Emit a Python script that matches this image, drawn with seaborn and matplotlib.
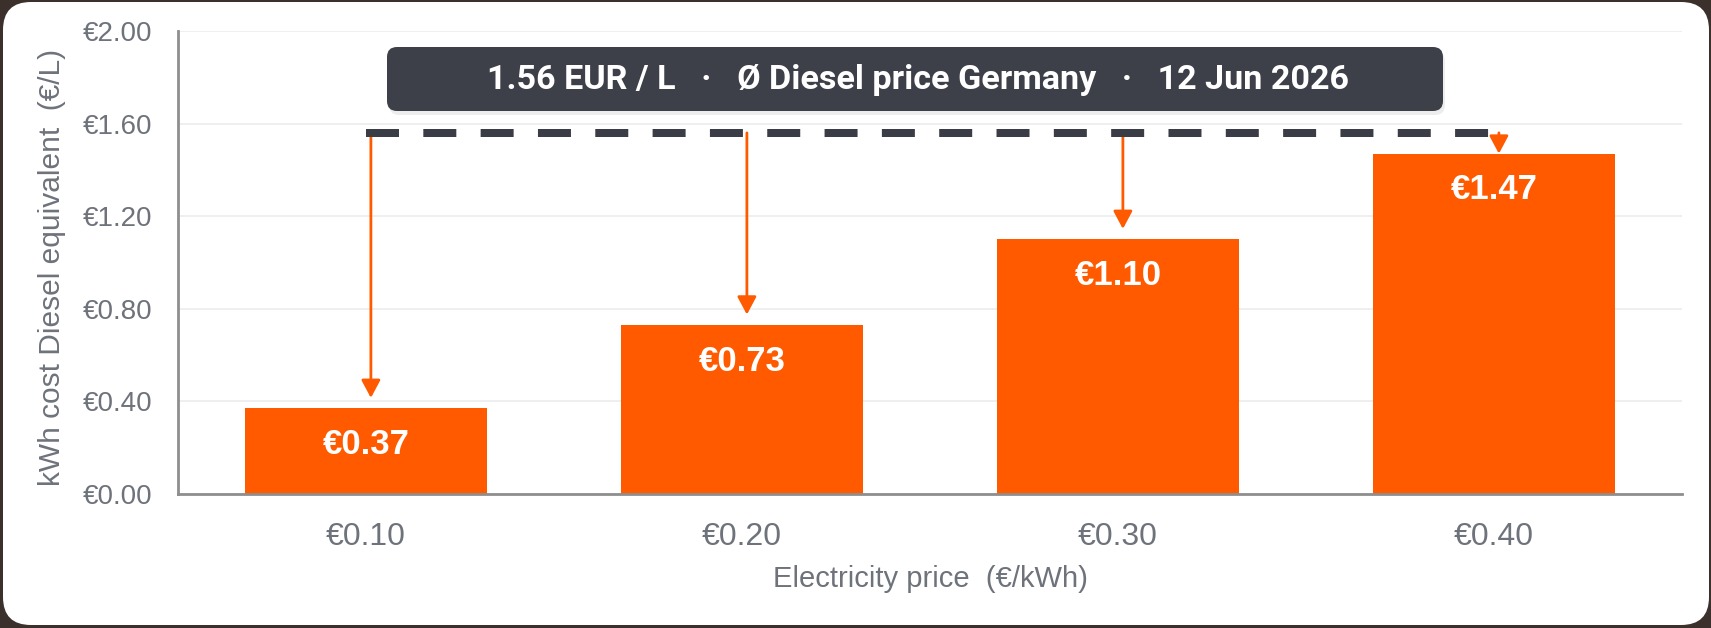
import pandas as pd
import seaborn as sns
import matplotlib.pyplot as plt
from matplotlib.patches import FancyBboxPatch

# data
elec_price = [0.10, 0.20, 0.30, 0.40]
diesel_equiv = [0.37, 0.73, 1.10, 1.47]
diesel_price = 1.56
price_date = "12 Jun 2026"
y_ticks = [0.0, 0.4, 0.8, 1.2, 1.6, 2.0]

ORANGE = "#ff5a00"
DARK = "#3d4048"
GREY_TXT = "#6e727b"
AXIS = "#8e8e8e"

sns.set_style("white")
plt.rcParams['font.family'] = ['Liberation Sans', 'DejaVu Sans']

df = pd.DataFrame({"price": [f"€{p:.2f}" for p in elec_price],
                   "cost": diesel_equiv})

W, H = 1711, 628
fig = plt.figure(figsize=(W / 100, H / 100), dpi=100)
fig.patch.set_facecolor("#3b302c")

# background card, in pixel units
bg = fig.add_axes([0, 0, 1, 1], zorder=0)
bg.set_xlim(0, W)
bg.set_ylim(H, 0)
bg.axis("off")
bg.add_patch(FancyBboxPatch((3, 2), W - 5, H - 5,
                            boxstyle="round,pad=0,rounding_size=28",
                            fc="white", ec="none"))

ax = fig.add_axes([178 / W, (H - 494) / H, 1504 / W, 463 / H], zorder=1)
ax.patch.set_alpha(0)
sns.barplot(data=df, x="price", y="cost", color=ORANGE, saturation=1,
            width=0.644, linewidth=0, ax=ax, zorder=2)

ax.set_xlim(-0.5, len(elec_price) - 0.5)
ax.set_ylim(0, 2.0)
ax.set_yticks(y_ticks, labels=[f"€{t:.2f}" for t in y_ticks])
ax.yaxis.grid(True, color="#ececec", lw=1.2)
ax.set_axisbelow(True)

for s in ["top", "right"]:
    ax.spines[s].set_visible(False)
for s in ["left", "bottom"]:
    ax.spines[s].set_color(AXIS)
    ax.spines[s].set_linewidth(2)
    ax.spines[s].set_zorder(3)

# category boundary ticks, labels on the centers
ax.set_xticks([i - 0.5 for i in range(len(elec_price) + 1)], labels=[])
ax.set_xticks(range(len(elec_price)), labels=df["price"], minor=True)
ax.tick_params(axis="x", which="major", length=6.5, width=2, color=AXIS)
ax.tick_params(axis="x", which="minor", length=0, pad=20,
               labelsize=23, labelcolor=GREY_TXT)
ax.tick_params(axis="y", length=6.5, width=2, color=AXIS, pad=12,
               labelsize=20, labelcolor=GREY_TXT)

ax.set_xlabel("Electricity price  (€/kWh)", fontsize=21, color=GREY_TXT)
ax.xaxis.set_label_coords(0.5, -(579 - 494) / 463)
ax.xaxis.label.set_va("center")
ax.set_ylabel("kWh cost Diesel equivalent  (€/L)", fontsize=21.5, color=GREY_TXT)
ax.yaxis.set_label_coords(-(178 - 52) / 1504, 0.49)
ax.yaxis.label.set_va("center")

# diesel reference line
ax.plot([0, len(elec_price) - 1], [diesel_price] * 2, color="#3a3d45",
        lw=5.76, dashes=(4.125, 3.04), zorder=5)

# arrows from the diesel line down to each bar, plus bar labels
for i, v in enumerate(diesel_equiv):
    end = v + 0.045 if diesel_price - v > 0.2 else v
    ax.annotate("", xy=(i + 0.013, end), xytext=(i + 0.013, diesel_price),
                arrowprops=dict(arrowstyle="-|>,head_length=0.9,head_width=0.48",
                                mutation_scale=12, color=ORANGE, lw=2,
                                shrinkA=0, shrinkB=0),
                zorder=4)
    ax.annotate(f"€{v:.2f}", xy=(i, v), xytext=(0, -26),
                textcoords="offset points", ha="center", va="center",
                color="white", fontsize=25, fontweight="bold", zorder=6)

# banner
bg.add_patch(FancyBboxPatch((389, 51), 1056, 64,
                            boxstyle="round,pad=0,rounding_size=10",
                            fc="black", ec="none", alpha=0.07))
bg.add_patch(FancyBboxPatch((387, 47), 1056, 64,
                            boxstyle="round,pad=0,rounding_size=10",
                            fc=DARK, ec="none"))
banner = f"{diesel_price:.2f} EUR / L   ·   Ø Diesel price Germany   ·   {price_date}"
bg.text(918, 80, banner, ha="center", va="center", color="white",
        fontsize=24.6, fontweight="bold", family=["Roboto", "DejaVu Sans"])

fig.savefig("out.png", dpi=100, facecolor=fig.get_facecolor())
